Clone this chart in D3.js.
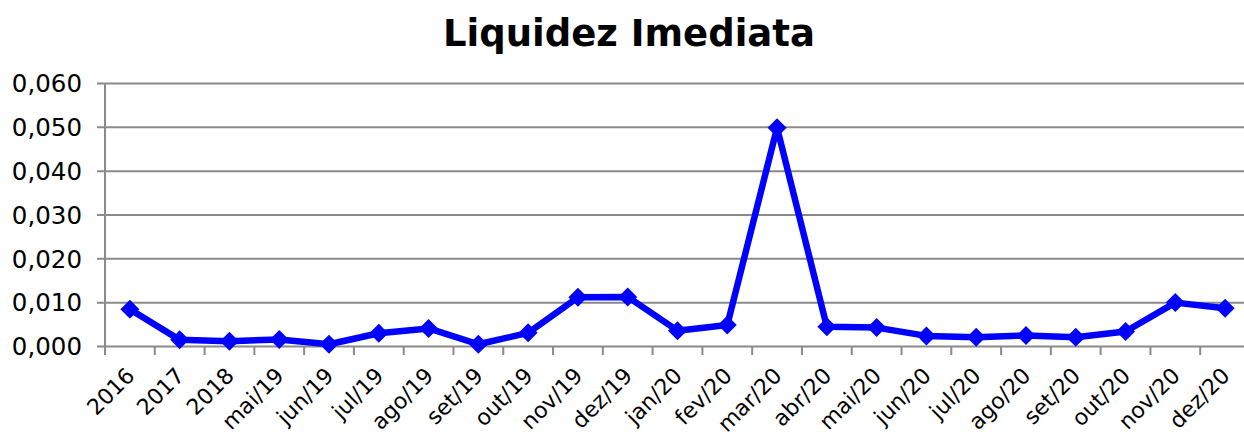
<!DOCTYPE html>
<html>
<head>
<meta charset="utf-8">
<script src="https://d3js.org/d3.v7.min.js"></script>
<style>
  body { margin: 0; background: #fff; }
  #chart text { font-family: "DejaVu Sans", Verdana, sans-serif; fill: #000; }
</style>
</head>
<body>
<div id="chart"></div>
<script>
// data
var categories = ["2016", "2017", "2018", "mai/19", "jun/19", "jul/19", "ago/19", "set/19", "out/19",
  "nov/19", "dez/19", "jan/20", "fev/20", "mar/20", "abr/20", "mai/20", "jun/20", "jul/20",
  "ago/20", "set/20", "out/20", "nov/20", "dez/20"];
var values = [0.0084, 0.0014, 0.0011, 0.0015, 0.0004, 0.0029, 0.0040, 0.0004, 0.0030,
  0.0111, 0.0112, 0.0035, 0.0048, 0.0498, 0.0044, 0.0042, 0.0023, 0.0020,
  0.0024, 0.0020, 0.0033, 0.0099, 0.0086];
var yTicks = [0, 0.01, 0.02, 0.03, 0.04, 0.05, 0.06];
var title = "Liquidez Imediata";

var margin = {top: 83, right: 0, bottom: 92, left: 105},
    width = 1145,
    height = 346 - margin.top;

var data = categories.map(function(c, i) { return {cat: c, val: values[i]}; });

var x = d3.scaleBand()
    .domain(categories)
    .range([0, width]);

var y = d3.scaleLinear()
    .domain([0, 0.06])
    .range([height, 0]);

var fmt = function(d) { return d3.format(".3f")(d).replace(".", ","); };

var svg = d3.select("#chart").append("svg")
    .attr("width", 1244)
    .attr("height", 438);

svg.append("text")
    .attr("x", 629)
    .attr("y", 46)
    .attr("text-anchor", "middle")
    .style("font-size", "37px")
    .style("font-weight", "bold")
    .text(title);

var g = svg.append("g")
    .attr("transform", "translate(" + margin.left + "," + margin.top + ")");

// gridlines + y axis
var yAxis = d3.axisLeft(y)
    .tickValues(yTicks)
    .tickSize(-width)
    .tickPadding(23)
    .tickFormat(fmt);

var gy = g.append("g")
    .attr("class", "y axis")
    .call(yAxis);
gy.select(".domain").remove();
gy.selectAll(".tick line")
    .attr("x1", -8)
    .attr("stroke", "#8a8a8a")
    .attr("stroke-width", 2);
gy.selectAll(".tick text")
    .style("font-size", "24.5px")
    .attr("dy", "0.36em");

g.append("line")
    .attr("x1", 0).attr("x2", 0)
    .attr("y1", 0).attr("y2", height + 9)
    .attr("stroke", "#8a8a8a")
    .attr("stroke-width", 2);

// x axis ticks at category boundaries
var bounds = categories.map(function(c) { return x(c); });
g.selectAll(".xtick")
    .data(bounds.slice(1).concat([width]))
    .enter().append("line")
    .attr("class", "xtick")
    .attr("x1", function(d) { return d; })
    .attr("x2", function(d) { return d; })
    .attr("y1", height)
    .attr("y2", height + 9)
    .attr("stroke", "#8a8a8a")
    .attr("stroke-width", 2);

g.selectAll(".xlabel")
    .data(categories)
    .enter().append("text")
    .attr("class", "xlabel")
    .attr("text-anchor", "end")
    .style("font-size", "22px")
    .attr("transform", function(d) {
      return "translate(" + (x(d) + x.bandwidth() / 2 + 6) + "," + (height + 31) + ") rotate(-45)";
    })
    .text(function(d) { return d; });

// line + markers
var line = d3.line()
    .x(function(d) { return x(d.cat) + x.bandwidth() / 2; })
    .y(function(d) { return y(d.val); });

g.append("path")
    .datum(data)
    .attr("fill", "none")
    .attr("stroke", "#0000ff")
    .attr("stroke-width", 6.5)
    .attr("stroke-linejoin", "round")
    .attr("d", line);

g.selectAll(".pt")
    .data(data)
    .enter().append("path")
    .attr("class", "pt")
    .attr("fill", "#0000ff")
    .attr("d", d3.symbol().type(d3.symbolDiamond2).size(230))
    .attr("transform", function(d) {
      return "translate(" + (x(d.cat) + x.bandwidth() / 2) + "," + y(d.val) + ")";
    });
</script>
</body>
</html>
